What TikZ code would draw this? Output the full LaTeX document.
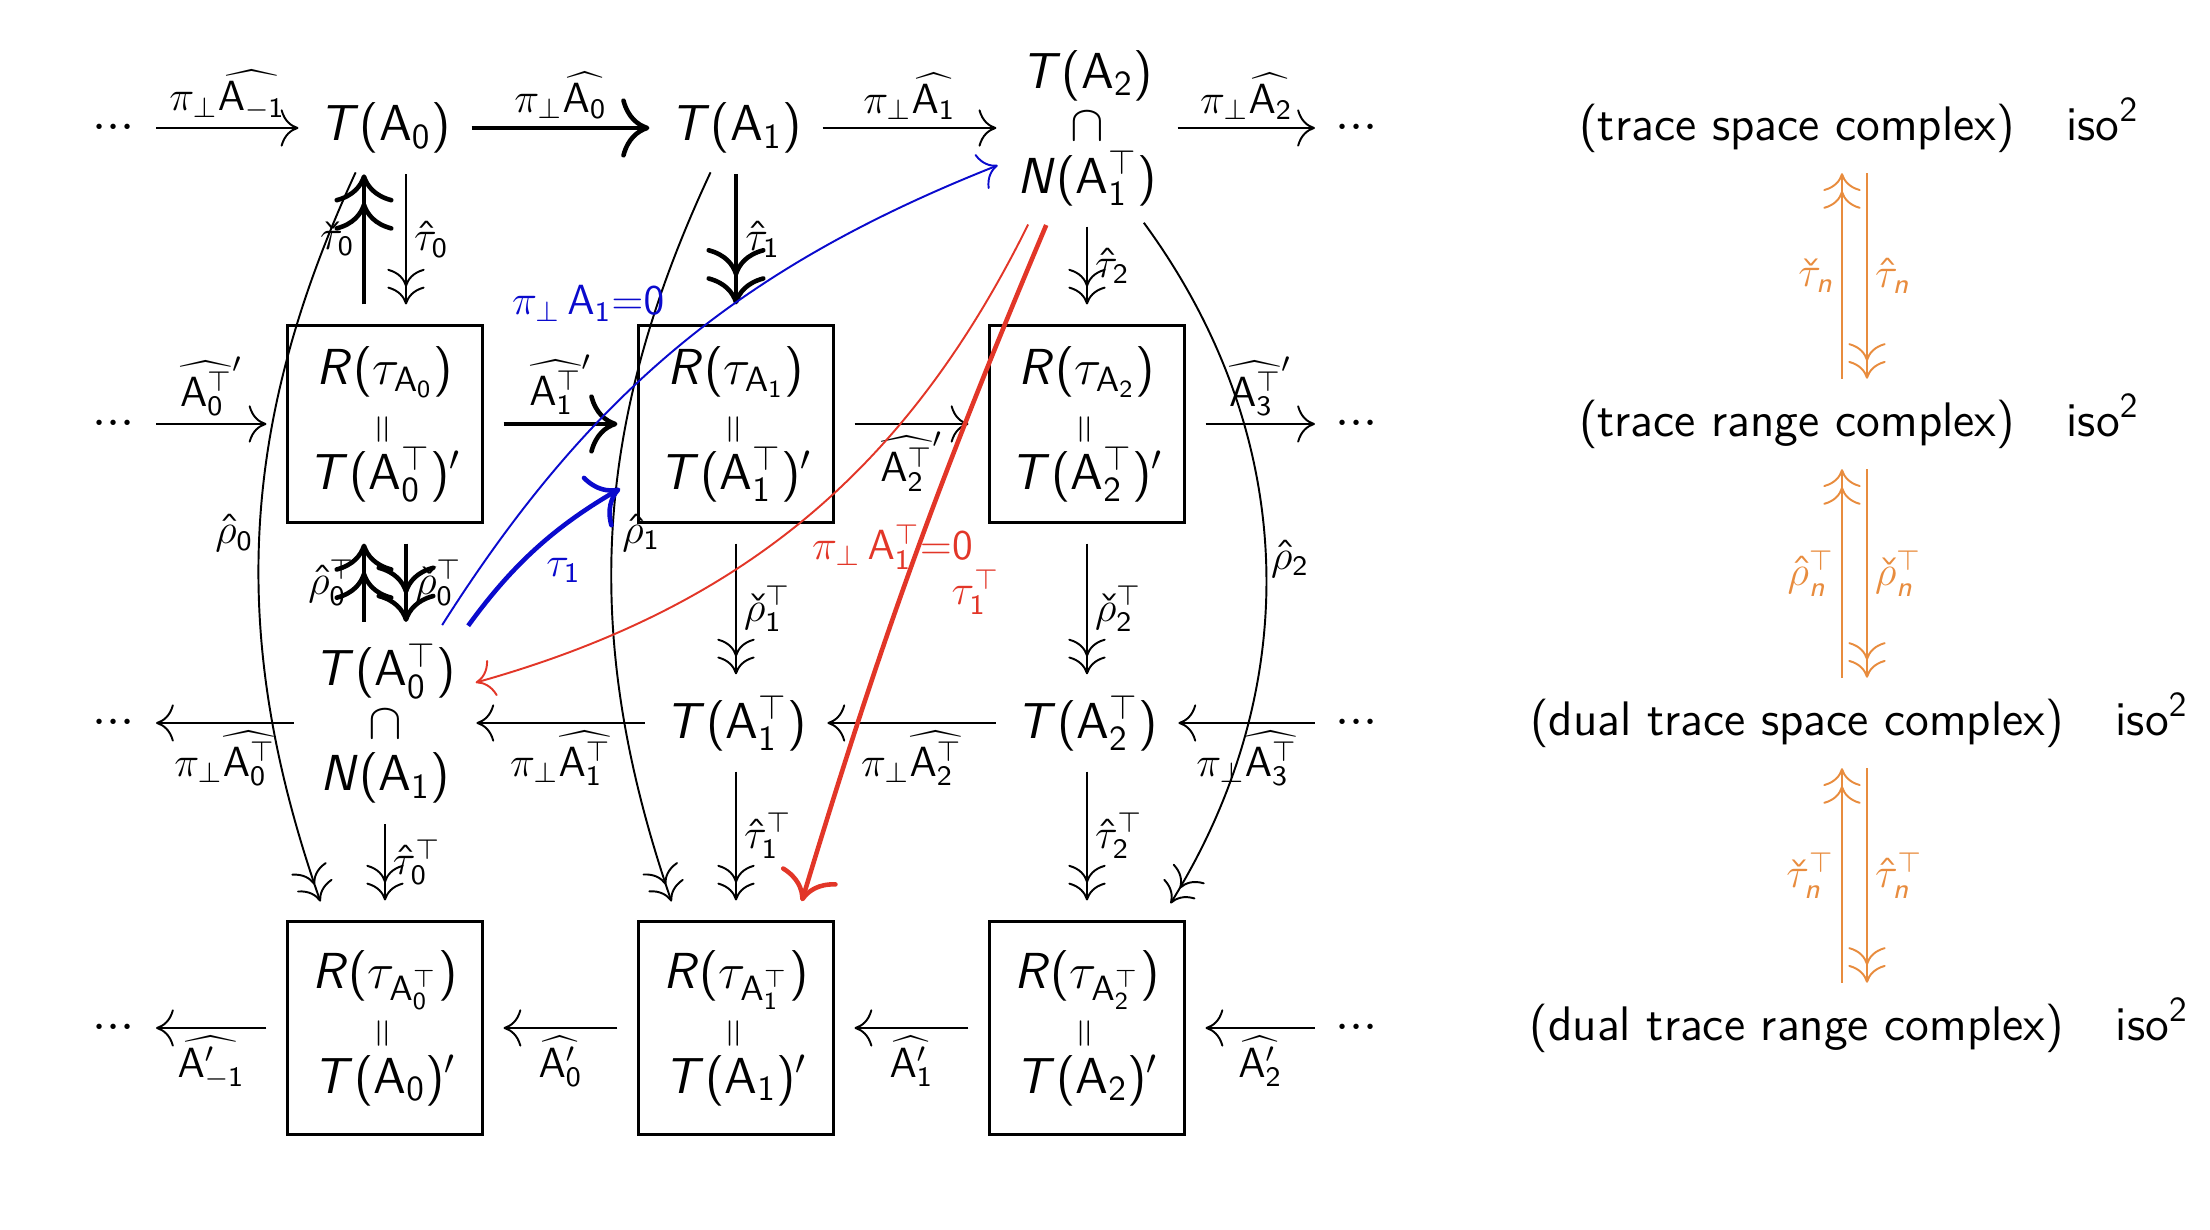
\documentclass[tikz,border=0pt]{standalone}
\usepackage{graphicx}
\usetikzlibrary{arrows.meta,positioning}

%% ── Font matematico senza grazie ────────────────────────────────────────
\DeclareSymbolFont{operators}{OT1}{cmss}{m}{n}
\DeclareSymbolFont{sfcorsivo}{OT1}{cmss}{m}{sl}
\DeclareMathSymbol{T}{\mathalpha}{sfcorsivo}{`T}
\DeclareMathSymbol{R}{\mathalpha}{sfcorsivo}{`R}
\DeclareMathSymbol{N}{\mathalpha}{sfcorsivo}{`N}
\DeclareMathSymbol{n}{\mathalpha}{sfcorsivo}{`n}

\definecolor{blu}{RGB}{10,10,205}
\definecolor{rosso}{RGB}{226,54,40}
\definecolor{arancio}{RGB}{232,140,62}

\newcommand{\sfA}{\mathsf{A}}
\newcommand{\ugualev}{\rotatebox[origin=c]{90}{\fontsize{11}{11}\selectfont$=$}}
\newcommand{\puntini}{\mathord{\cdot}\mathord{\cdot}\mathord{\cdot}}

\begin{document}
\begin{tikzpicture}[>={Computer Modern Rightarrow[scale=1.8]}, line width=0.55pt,
	font=\sffamily\fontsize{14.4}{14.9}\selectfont,
	ogg/.style    = {inner sep=0pt},
	pila/.style   = {inner sep=0pt, align=center},
	scat/.style   = {draw, line width=0.6pt, inner sep=0pt, align=center,
		minimum width=1.95cm, minimum height=1.97cm},
	scatT/.style  = {scat, minimum height=2.13cm},
	eti/.style    = {font=\fontsize{11.5}{13}\selectfont, inner sep=2pt},
	fr/.style     = {->, shorten <=2mm, shorten >=2mm},
	sur/.style    = {->>, shorten <=2mm, shorten >=2mm},
	spessa/.style = {line width=1.3pt},
	testo/.style  = {font=\sffamily\fontsize{13.8}{16}\selectfont, inner sep=0.5mm},
	]
	
	%% ── Parametri geometrici ─────────────────────────────────────────────────
	\def\xS{1.14}    % puntini a sinistra
	\def\xI{3.85}    \def\xII{7.36}   \def\xIII{10.87}
	\def\xD{13.57}   % puntini a destra
	\def\xC{17.97}   % colonna dei complessi
	\def\yI{11.02}   \def\yII{8.06}   \def\yIII{5.07}  \def\yIV{2.02}
	
	\useasboundingbox (0,0) rectangle (22.1,12.3);
	
	%% ── Riga 1: spazi traccia ────────────────────────────────────────────────
	\node[ogg] (ps1) at (\xS,\yI) {$\puntini$};
	\node[ogg] (TA0) at (\xI,\yI) {$T(\sfA_0)$};
	\node[ogg] (TA1) at (\xII,\yI) {$T(\sfA_1)$};
	\node[pila] (pila1) at (\xIII,\yI) {$T(\sfA_2)$\\$\cap$\\$N(\sfA_1^\top)$};
	\node[ogg] (pd1) at (\xD,\yI) {$\puntini$};
	
	\draw[fr] (ps1) -- node[eti,above]{$\pi_\perp\widehat{\sfA_{-1}}$} (TA0);
	\draw[fr,spessa] (TA0) -- node[eti,above]{$\pi_\perp\widehat{\sfA_0}$} (TA1);
	\draw[fr] (TA1) -- node[eti,above]{$\pi_\perp\widehat{\sfA_1}$} (pila1);
	\draw[fr] (pila1) -- node[eti,above]{$\pi_\perp\widehat{\sfA_2}$} (pd1);
	
	%% ── Riga 2: immagini ─────────────────────────────────────────────────────
	\node[ogg] (ps2) at (\xS,\yII) {$\puntini$};
	\node[scat] (R0) at (\xI,\yII) {$R(\tau_{\sfA_0})$\\\ugualev\\$T(\sfA_0^\top)'$};
	\node[scat] (R1) at (\xII,\yII) {$R(\tau_{\sfA_1})$\\\ugualev\\$T(\sfA_1^\top)'$};
	\node[scat] (R2) at (\xIII,\yII) {$R(\tau_{\sfA_2})$\\\ugualev\\$T(\sfA_2^\top)'$};
	\node[ogg] (pd2) at (\xD,\yII) {$\puntini$};
	
	\draw[fr] (ps2) -- node[eti,above]{$\widehat{\sfA_0^\top}'$} (R0);
	\draw[fr,spessa] (R0) -- node[eti,above]{$\widehat{\sfA_1^\top}'$} (R1);
	\draw[fr] (R1) -- node[eti,below]{$\widehat{\sfA_2^\top}'$} (R2);
	\draw[fr] (R2) -- node[eti,above]{$\widehat{\sfA_3^\top}'$} (pd2);
	
	%% ── Riga 3: spazi traccia duali ──────────────────────────────────────────
	\node[ogg] (ps3) at (\xS,\yIII) {$\puntini$};
	\node[pila] (pila2) at (\xI,\yIII) {$T(\sfA_0^\top)$\\$\cap$\\$N(\sfA_1)$};
	\node[ogg] (TA1T) at (\xII,\yIII) {$T(\sfA_1^\top)$};
	\node[ogg] (TA2T) at (\xIII,\yIII) {$T(\sfA_2^\top)$};
	\node[ogg] (pd3) at (\xD,\yIII) {$\puntini$};
	
	\draw[fr] (pila2) -- node[eti,below]{$\pi_\perp\widehat{\sfA_0^\top}$} (ps3);
	\draw[fr] (TA1T) -- node[eti,below]{$\pi_\perp\widehat{\sfA_1^\top}$} (pila2);
	\draw[fr] (TA2T) -- node[eti,below]{$\pi_\perp\widehat{\sfA_2^\top}$} (TA1T);
	\draw[fr] (pd3) -- node[eti,below]{$\pi_\perp\widehat{\sfA_3^\top}$} (TA2T);
	
	%% ── Riga 4: immagini duali ───────────────────────────────────────────────
	\node[ogg] (ps4) at (\xS,\yIV) {$\puntini$};
	\node[scatT] (S0) at (\xI,\yIV) {$R(\tau_{\sfA_0^\top})$\\\ugualev\\$T(\sfA_0)'$};
	\node[scatT] (S1) at (\xII,\yIV) {$R(\tau_{\sfA_1^\top})$\\\ugualev\\$T(\sfA_1)'$};
	\node[scatT] (S2) at (\xIII,\yIV) {$R(\tau_{\sfA_2^\top})$\\\ugualev\\$T(\sfA_2)'$};
	\node[ogg] (pd4) at (\xD,\yIV) {$\puntini$};
	
	\draw[fr] (S0) -- node[eti,below]{$\widehat{\sfA'_{-1}}$} (ps4);
	\draw[fr] (S1) -- node[eti,below]{$\widehat{\sfA'_0}$} (S0);
	\draw[fr] (S2) -- node[eti,below]{$\widehat{\sfA'_1}$} (S1);
	\draw[fr] (pd4) -- node[eti,below]{$\widehat{\sfA'_2}$} (S2);
	
	%% ── Frecce verticali ─────────────────────────────────────────────────────
	\draw[sur,spessa] ([xshift=-2.1mm]R0.north) -- node[eti,left]{$\check\tau_0$} ([xshift=-2.1mm]TA0.south);
	\draw[sur] ([xshift=2.1mm]TA0.south) -- node[eti,right]{$\hat\tau_0$} ([xshift=2.1mm]R0.north);
	\draw[sur,spessa] (TA1) -- node[eti,right]{$\hat\tau_1$} (R1);
	\draw[sur] (pila1) -- node[eti,right]{$\hat\tau_2$} (R2);
	
	\draw[sur,spessa] ([xshift=-2.1mm]pila2.north) -- node[eti,left]{$\hat\rho_0^\top$} ([xshift=-2.1mm]R0.south);
	\draw[sur,spessa] ([xshift=2.1mm]R0.south) -- node[eti,right]{$\check\rho_0^\top$} ([xshift=2.1mm]pila2.north);
	\draw[sur] (R1) -- node[eti,right]{$\check\rho_1^\top$} (TA1T);
	\draw[sur] (R2) -- node[eti,right]{$\check\rho_2^\top$} (TA2T);
	
	\draw[sur] (pila2) -- node[eti,right]{$\hat\tau_0^\top$} (S0);
	\draw[sur] (TA1T) -- node[eti,right]{$\hat\tau_1^\top$} (S1);
	\draw[sur] (TA2T) -- node[eti,right]{$\hat\tau_2^\top$} (S2);
	
	%% ── Frecce curve rho ─────────────────────────────────────────────────────
	\draw[sur] ([xshift=-2.1mm]TA0.south) to[bend right=22]
		node[eti,left]{$\hat\rho_0$} ([xshift=-5.8mm]S0.north);
	\draw[sur] ([xshift=-1.7mm]TA1.south) to[bend right=22]
		node[eti,right]{$\hat\rho_1$} ([xshift=-5.8mm]S1.north);
	\draw[sur] ([xshift=4.5mm]pila1.south) to[bend left=34]
		node[eti,right]{$\hat\rho_2$} ([xshift=7.3mm]S2.north);
	
	%% ── Frecce blu e rosse ───────────────────────────────────────────────────
	\draw[fr,blu] ([xshift=-2.5mm]pila2.north east) to[bend left=18]
		node[eti,pos=.6,left=6.5mm]{$\pi_\perp\,\sfA_1{=}0$} ([yshift=-3mm]pila1.west);
	\draw[fr,blu,spessa] (pila2.north east) to[bend left=12]
		node[eti,below right]{$\tau_1$} ([yshift=4.5mm]R1.south west);
	
	\draw[fr,rosso] ([xshift=-5mm]pila1.south) to[bend left=24]
		node[eti,pos=.5,anchor=north west]{$\pi_\perp\,\sfA_1^\top{=}0$} ([yshift=3.5mm]pila2.east);
	\draw[fr,rosso,spessa] ([xshift=-3.3mm]pila1.south) to[bend right=3]
		node[eti,pos=.55,right=4mm]{$\tau_1^\top$} ([xshift=6mm]S1.north);
	
	%% ── Colonna dei complessi ────────────────────────────────────────────────
	\node[testo] (tsc) at (\xC,\yI) {(trace space complex)};
	\node[testo] (trc) at (\xC,\yII) {(trace range complex)};
	\node[testo] (dtsc) at (\xC,\yIII) {(dual trace space complex)};
	\node[testo] (dtrc) at (\xC,\yIV) {(dual trace range complex)};
	\node[testo, base right=4mm of tsc] (iso1) {iso$^2$};
	\node[testo, base right=4mm of trc] (iso2) {iso$^2$};
	\node[testo, base right=4mm of dtsc] (iso3) {iso$^2$};
	\node[testo, base right=4mm of dtrc] (iso4) {iso$^2$};
	
	\draw[sur,arancio,shorten <=1.5mm,shorten >=1.5mm] ([xshift=4.5mm]trc.north) -- node[eti,left]{$\check\tau_n$} ([xshift=4.5mm]tsc.south);
	\draw[sur,arancio,shorten <=1.5mm,shorten >=1.5mm] ([xshift=7mm]tsc.south) -- node[eti,right]{$\hat\tau_n$} ([xshift=7mm]trc.north);
	\draw[sur,arancio,shorten <=1.5mm,shorten >=1.5mm] ([xshift=4.5mm]dtsc.north) -- node[eti,left]{$\hat\rho_n^\top$} ([xshift=4.5mm]trc.south);
	\draw[sur,arancio,shorten <=1.5mm,shorten >=1.5mm] ([xshift=7mm]trc.south) -- node[eti,right]{$\check\rho_n^\top$} ([xshift=7mm]dtsc.north);
	\draw[sur,arancio,shorten <=1.5mm,shorten >=1.5mm] ([xshift=4.5mm]dtrc.north) -- node[eti,left]{$\check\tau_n^\top$} ([xshift=4.5mm]dtsc.south);
	\draw[sur,arancio,shorten <=1.5mm,shorten >=1.5mm] ([xshift=7mm]dtsc.south) -- node[eti,right]{$\hat\tau_n^\top$} ([xshift=7mm]dtrc.north);
	
\end{tikzpicture}
\end{document}
